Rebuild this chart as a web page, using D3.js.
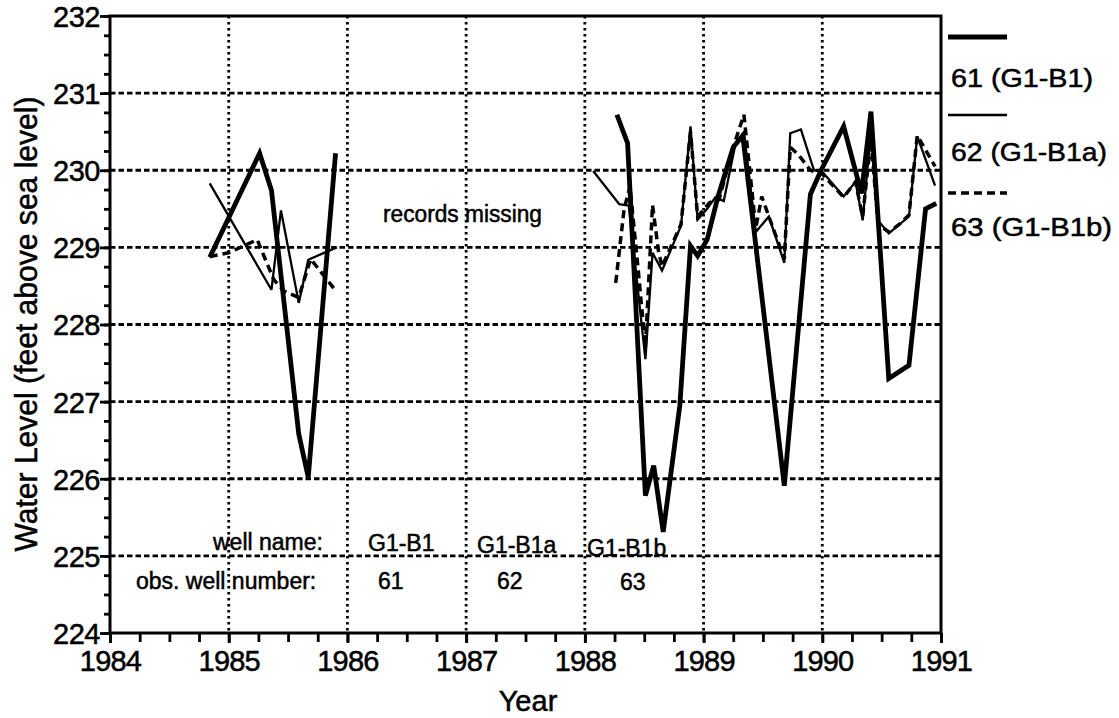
<!DOCTYPE html>
<html>
<head>
<meta charset="utf-8">
<script src="https://cdn.jsdelivr.net/npm/d3@7"></script>
<style>
  body { margin: 0; background: #fff; }
  svg { font-family: "Liberation Sans", Arial, Helvetica, sans-serif; }
  text { fill: #000; stroke: #000; stroke-width: 0.5px; }
</style>
</head>
<body>
<svg width="1119" height="718"></svg>
<script>
// axis ticks
var yearTicks = [1984, 1985, 1986, 1987, 1988, 1989, 1990, 1991]
var levelTicks = [224, 225, 226, 227, 228, 229, 230, 231, 232]

// [decimal year, water level]; null marks the gap in the records
var well61 = [
  [1984.84, 228.87], [1985.26, 230.22], [1985.36, 229.74], [1985.59, 226.58], [1985.67, 226.02], [1985.90, 230.22],
  [1987.0, null],
  [1988.27, 230.72], [1988.36, 230.35], [1988.51, 225.78], [1988.58, 226.17], [1988.66, 225.31], [1988.80, 226.95],
  [1988.89, 229.02], [1988.95, 228.89], [1989.03, 229.10], [1989.12, 229.65], [1989.25, 230.30], [1989.33, 230.45],
  [1989.68, 225.91], [1989.90, 229.69], [1989.99, 230.0], [1990.18, 230.57], [1990.33, 229.7], [1990.41, 230.76],
  [1990.56, 227.30], [1990.73, 227.47], [1990.87, 229.50], [1990.96, 229.57]
]
var well62 = [
  [1984.84, 229.83], [1985.36, 228.45], [1985.44, 229.48], [1985.59, 228.28], [1985.67, 228.84], [1985.91, 229.0],
  [1987.0, null],
  [1988.07, 229.99], [1988.29, 229.56], [1988.37, 229.54], [1988.51, 227.55], [1988.57, 228.93], [1988.65, 228.70],
  [1988.81, 229.28], [1988.89, 230.57], [1988.95, 229.36], [1989.03, 229.5], [1989.10, 229.65], [1989.17, 229.6],
  [1989.27, 230.35], [1989.34, 230.49], [1989.44, 229.2], [1989.55, 229.4], [1989.68, 228.8], [1989.73, 230.48],
  [1989.82, 230.53], [1989.93, 230.0], [1990.0, 229.98], [1990.18, 229.66], [1990.28, 229.85], [1990.34, 229.35],
  [1990.41, 230.5], [1990.47, 229.35], [1990.56, 229.18], [1990.73, 229.40], [1990.80, 230.44], [1990.95, 229.80]
]
var well63 = [
  [1984.84, 228.88], [1985.0, 228.93], [1985.24, 229.10], [1985.38, 228.58], [1985.47, 228.43], [1985.59, 228.35],
  [1985.69, 228.85], [1985.91, 228.42],
  [1987.0, null],
  [1988.26, 228.54], [1988.33, 229.49], [1988.38, 229.79], [1988.45, 228.7], [1988.51, 227.7], [1988.57, 229.55],
  [1988.62, 228.95], [1988.65, 228.75], [1988.81, 229.3], [1988.89, 230.5], [1988.95, 229.4], [1989.05, 229.58],
  [1989.13, 229.62], [1989.25, 230.3], [1989.34, 230.72], [1989.44, 229.25], [1989.49, 229.66], [1989.55, 229.4],
  [1989.68, 228.85], [1989.73, 230.3], [1989.80, 230.2], [1989.90, 230.0], [1990.0, 229.95], [1990.18, 229.65],
  [1990.28, 229.85], [1990.34, 229.4], [1990.41, 230.4], [1990.47, 229.3], [1990.56, 229.2], [1990.65, 229.3],
  [1990.73, 229.42], [1990.80, 230.45], [1990.95, 230.05]
]

var wellNames = ["G1-B1", "G1-B1a", "G1-B1b"]
var wellNumbers = ["61", "62", "63"]
var legendLabels = ["61 (G1-B1)", "62 (G1-B1a)", "63 (G1-B1b)"]

var svg = d3.select("svg")
// plot box (named to avoid window.top)
var plotL = 110, plotR = 941, plotT = 16, plotB = 633

var x = d3.scaleLinear().domain([1984, 1991]).range([plotL, plotR])
var y = d3.scaleLinear().domain([224, 232]).range([plotB, plotT])

// grid
svg.append("g").selectAll("line")
  .data(yearTicks.slice(1, -1))
  .enter().append("line")
    .attr("x1", d => x(d)).attr("x2", d => x(d))
    .attr("y1", plotT).attr("y2", plotB)
    .attr("stroke", "#000").attr("stroke-width", 2.8)
    .attr("stroke-dasharray", "2.5,3.5")
svg.append("g").selectAll("line")
  .data(levelTicks.slice(1, -1))
  .enter().append("line")
    .attr("x1", plotL).attr("x2", plotR)
    .attr("y1", d => y(d)).attr("y2", d => y(d))
    .attr("stroke", "#000").attr("stroke-width", 2.8)
    .attr("stroke-dasharray", "5.5,3")

// frame
svg.append("rect")
  .attr("x", plotL).attr("y", plotT)
  .attr("width", plotR - plotL).attr("height", plotB - plotT)
  .attr("fill", "none").attr("stroke", "#000").attr("stroke-width", 3)

// minor ticks
var quarters = d3.range(1984, 1991.01, 0.25)
var yQuarters = d3.range(224, 232.01, 0.25)
svg.append("g").attr("transform", "translate(0," + plotB + ")")
  .call(d3.axisBottom(x).tickValues(quarters).tickSize(9).tickFormat(""))
svg.append("g").attr("transform", "translate(" + plotL + ",0)")
  .call(d3.axisLeft(y).tickValues(yQuarters).tickSize(6).tickFormat(""))

// major ticks + labels
var xAxis = svg.append("g").attr("transform", "translate(0," + plotB + ")")
  .call(d3.axisBottom(x).tickValues(yearTicks).tickSize(10).tickFormat(d3.format("d")))
var yAxis = svg.append("g").attr("transform", "translate(" + plotL + ",0)")
  .call(d3.axisLeft(y).tickValues(levelTicks).tickSize(10).tickFormat(d3.format("d")))

svg.selectAll(".domain").remove()
svg.selectAll(".tick line").attr("stroke", "#000").attr("stroke-width", 2.8)
xAxis.selectAll("text").attr("font-size", 29).attr("fill", "#000")
  .attr("y", 17).attr("dy", "0.71em").attr("letter-spacing", -0.8)
yAxis.selectAll("text").attr("font-size", 29).attr("fill", "#000")
  .attr("x", -10).attr("dy", "0.36em").attr("letter-spacing", -0.5)
svg.selectAll(".tick text").attr("font-family", null)

// axis titles
svg.append("text")
  .attr("x", 528).attr("y", 711)
  .attr("text-anchor", "middle")
  .attr("font-size", 29)
  .text("Year")
svg.append("text")
  .attr("transform", "translate(37,324) rotate(-90)")
  .attr("text-anchor", "middle")
  .attr("font-size", 31)
  .attr("textLength", 455).attr("lengthAdjust", "spacingAndGlyphs")
  .text("Water Level (feet above sea level)")

// series
var line = d3.line()
  .defined(d => d[1] != null)
  .x(d => x(d[0]))
  .y(d => y(d[1]))

var styles = [
  { data: well61, width: 4.8, dash: null },
  { data: well62, width: 2.3, dash: null },
  { data: well63, width: 3.5, dash: "8,5" }
]
styles.forEach(function (s) {
  svg.append("path")
    .datum(s.data)
    .attr("d", line)
    .attr("fill", "none")
    .attr("stroke", "#000")
    .attr("stroke-width", s.width)
    .attr("stroke-linejoin", "miter")
    .attr("stroke-miterlimit", 3)
    .attr("stroke-dasharray", s.dash)
})

// annotations
svg.append("text").attr("x", 383).attr("y", 222).attr("font-size", 23)
  .attr("textLength", 159).attr("lengthAdjust", "spacingAndGlyphs")
  .text("records missing")
svg.append("text").attr("x", 213).attr("y", 550).attr("font-size", 23).text("well name:")
svg.append("text").attr("x", 136).attr("y", 589).attr("font-size", 23).text("obs. well number:")

var nameX = [368, 477, 587]
var nameY = [551, 553, 556]
var numX = [378, 497, 620]
var numY = [589, 589, 590]
svg.append("g").selectAll("text")
  .data(wellNames)
  .enter().append("text")
    .attr("x", (d, i) => nameX[i]).attr("y", (d, i) => nameY[i])
    .attr("font-size", 23)
    .text(d => d)
svg.append("g").selectAll("text")
  .data(wellNumbers)
  .enter().append("text")
    .attr("x", (d, i) => numX[i]).attr("y", (d, i) => numY[i])
    .attr("font-size", 23)
    .text(d => d)

// legend
var legendLineY = [37, 115, 193]
var legendTextY = [87, 161, 236]
var legendWidths = [142, 156, 161]
legendLabels.forEach(function (label, i) {
  svg.append("line")
    .attr("x1", 948).attr("x2", 1007)
    .attr("y1", legendLineY[i]).attr("y2", legendLineY[i])
    .attr("stroke", "#000")
    .attr("stroke-width", styles[i].width)
    .attr("stroke-dasharray", styles[i].dash)
  svg.append("text")
    .attr("x", 951).attr("y", legendTextY[i])
    .attr("font-size", 25)
    .attr("textLength", legendWidths[i]).attr("lengthAdjust", "spacingAndGlyphs")
    .text(label)
})
</script>
</body>
</html>
